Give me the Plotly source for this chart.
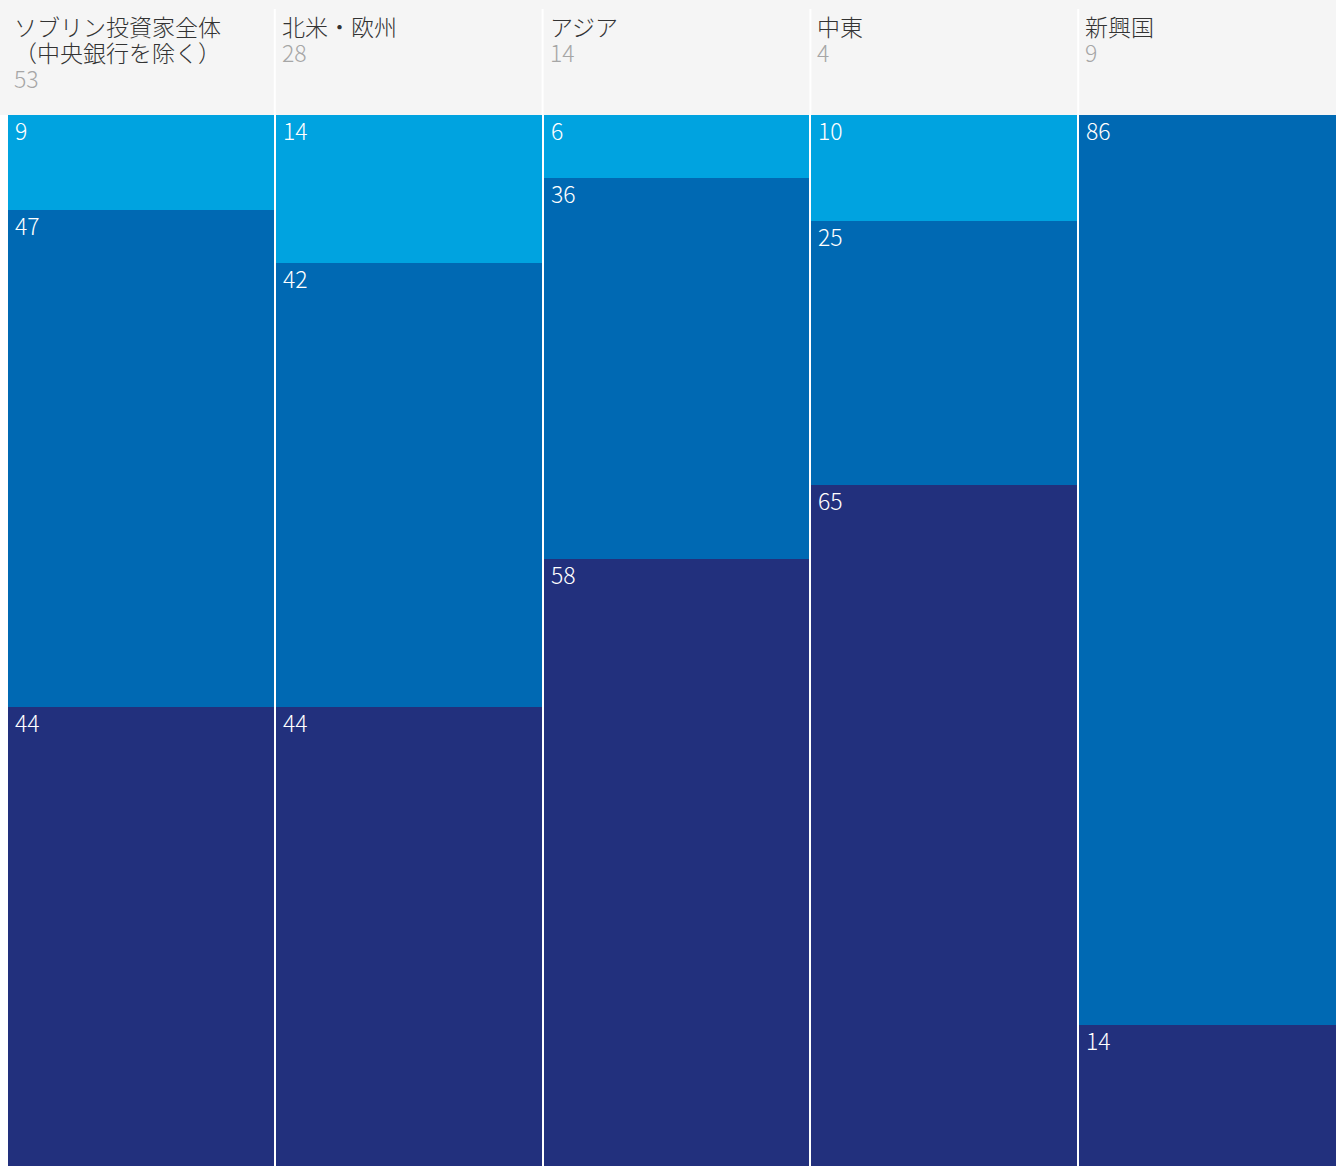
import plotly.graph_objects as go

# Investor groups (header titles) and the number of respondents in each
groups = ["ソブリン投資家全体\n（中央銀行を除く）", "北米・欧州", "アジア", "中東", "新興国"]
counts = [53, 28, 14, 4, 9]

# Share of each allocation tier (percent), stacked top to bottom
top_share = [9, 14, 6, 10, 0]
mid_share = [47, 42, 36, 25, 86]
bottom_share = [44, 44, 58, 65, 14]

COL_TOP = "#00a3e0"
COL_MID = "#0069b3"
COL_BOT = "#22307d"
HEADER_BG = "#f5f5f5"
FONT = "Noto Sans CJK JP"

W, H = 1336, 1166
M_LEFT, M_TOP = 7, 115
PLOT_W = W - M_LEFT
PLOT_H = H - M_TOP
PERIOD = 267.8                      # pixel width of one column slot
x_hi = -0.5 + PLOT_W / PERIOD
bar_w = (PERIOD - 2) / PERIOD
y_lo = 100 - PLOT_H / 10.58         # bars run slightly past the bottom edge

xs = list(range(len(groups)))
fig = go.Figure()
for vals, col in [(bottom_share, COL_BOT), (mid_share, COL_MID), (top_share, COL_TOP)]:
    fig.add_trace(go.Bar(x=xs, y=vals, width=bar_w, marker=dict(color=col, line=dict(width=0)),
                         hoverinfo="skip", showlegend=False))

annotations = []
# Segment value labels at the top-left corner of each block
for i in xs:
    tops = [
        (100, top_share[i]),
        (100 - top_share[i], mid_share[i]),
        (bottom_share[i], bottom_share[i]),
    ]
    for y_top, v in tops:
        if v <= 0:
            continue
        annotations.append(dict(
            x=i - bar_w / 2, y=y_top, xref="x", yref="y", xanchor="left", yanchor="top",
            xshift=5, yshift=4, text=str(v), showarrow=False,
            font=dict(family=FONT, size=23, color="white", weight=300)))

# Header block: title lines followed by the respondent count (one text per column)
for i, (g, n) in enumerate(zip(groups, counts)):
    parts = [f"<span style='font-size:23px'>{line}</span>" for line in g.split("\n")]
    parts.append(f"<span style='font-size:23px;color:#a6a6a6'>{n}</span>")
    annotations.append(dict(
        x=i - bar_w / 2, y=1, xref="x", yref="paper", xanchor="left", yanchor="top",
        xshift=4, yshift=M_TOP - 7, text="<br>".join(parts), showarrow=False, align="left",
        font=dict(family=FONT, size=20, color="#333333", weight=300)))

shapes = [dict(type="rect", xref="paper", yref="paper", x0=-M_LEFT / PLOT_W, x1=1.01,
               y0=1, y1=1 + M_TOP / PLOT_H, fillcolor=HEADER_BG, line=dict(width=0), layer="below")]
for i in xs[:-1]:
    shapes.append(dict(type="line", xref="x", yref="paper", x0=i + 0.5, x1=i + 0.5,
                       y0=1, y1=1 + (M_TOP - 9) / PLOT_H, line=dict(color="white", width=2)))

fig.update_layout(
    width=W, height=H, barmode="stack",
    margin=dict(l=M_LEFT, r=0, t=M_TOP, b=0, pad=0),
    paper_bgcolor="white", plot_bgcolor="white",
    xaxis=dict(range=[-0.5, x_hi], visible=False, fixedrange=True),
    yaxis=dict(range=[y_lo, 100], visible=False, fixedrange=True),
    annotations=annotations, shapes=shapes,
    font=dict(family=FONT),
)
fig.write_html("out.html", config={"displayModeBar": False})
